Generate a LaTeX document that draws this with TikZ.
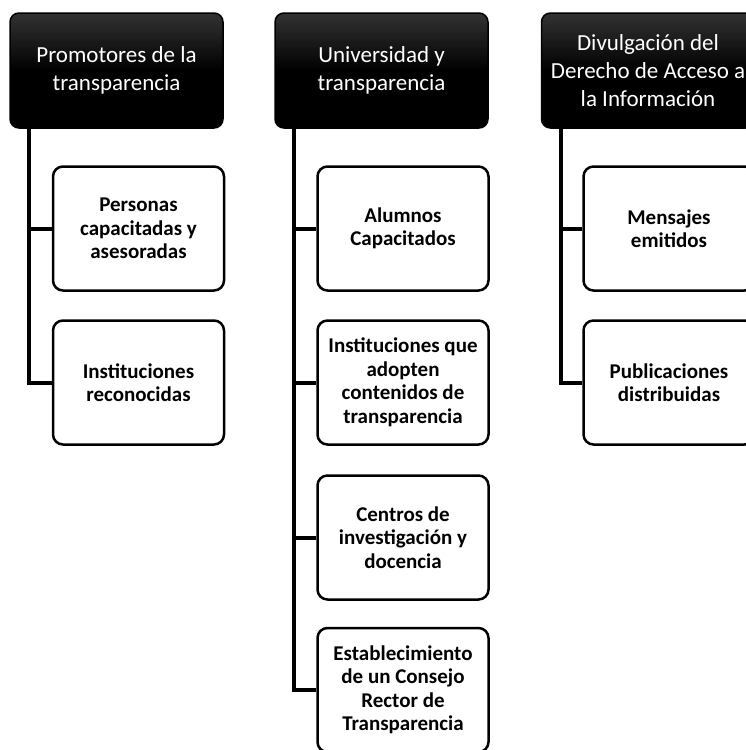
\documentclass[tikz,border=0pt]{standalone}
\usepackage{fontspec}
\setmainfont{Carlito}
\begin{document}
\begin{tikzpicture}[x=1pt,y=-1pt,
  header/.style={draw=black, line width=1.5pt, rounded corners=9pt,
    top color=black!80, bottom color=black, middle color=black,
    minimum width=213pt, minimum height=115pt, text=white, align=center,
    font=\fontsize{23}{28}\selectfont, inner sep=2pt},
  item/.style={draw=black, line width=2.5pt, rounded corners=10pt, fill=white,
    minimum width=171pt, minimum height=124pt, align=center,
    font=\bfseries\fontsize{21}{23.5}\selectfont, inner sep=2pt},
  link/.style={draw=black, line width=4pt}]
\useasboundingbox (0,0) rectangle (746,750);

% column headers
\node[header] (h1) at (116.5,70.5) {Promotores de la\\transparencia};
\node[header] (h2) at (381.5,70.5) {Universidad y\\transparencia};
\node[header] (h3) at (648,70.5) {Divulgación del\\Derecho de Acceso a\\la Información};

% column 1
\node[item] (a1) at (138.5,228.5) {Personas\\capacitadas y\\asesoradas};
\node[item] (a2) at (138.5,382.5) {Instituciones\\reconocidas};

% column 2
\node[item] (b1) at (403,228.5) {Alumnos\\Capacitados};
\node[item] (b2) at (403,382.5) {Instituciones que\\adopten\\contenidos de\\transparencia};
\node[item] (b3) at (403,537.5) {Centros de\\investigación y\\docencia};
\node[item] (b4) at (403,690) {Establecimiento\\de un Consejo\\Rector de\\Transparencia};

% column 3
\node[item] (c1) at (669,228.5) {Mensajes\\emitidos};
\node[item] (c2) at (669,382.5) {Publicaciones\\distribuidas};

% connectors
\draw[link] ([xshift=20pt]h1.south west) |- (a2.west);
\draw[link] ([xshift=20pt]h1.south west) |- (a1.west);
\draw[link] ([xshift=20pt]h2.south west) |- (b4.west);
\draw[link] ([xshift=20pt]h2.south west) |- (b1.west);
\draw[link] ([xshift=20pt]h2.south west) |- (b2.west);
\draw[link] ([xshift=20pt]h2.south west) |- (b3.west);
\draw[link] ([xshift=20.5pt]h3.south west) |- (c2.west);
\draw[link] ([xshift=20.5pt]h3.south west) |- (c1.west);
\end{tikzpicture}
\end{document}
